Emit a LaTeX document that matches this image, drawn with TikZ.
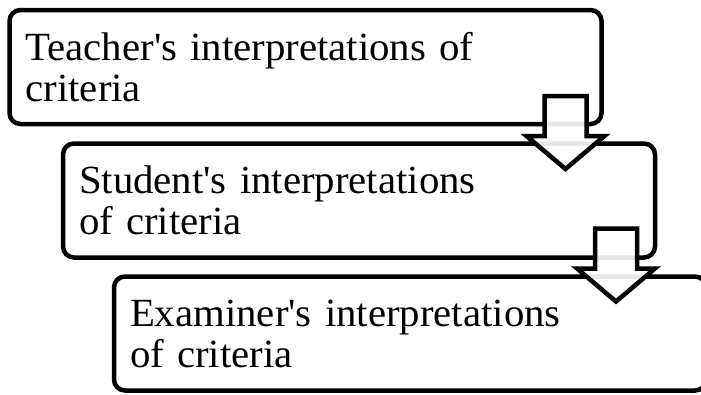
\documentclass[tikz,border=0pt]{standalone}
\usepackage{fontspec}
\setmainfont{Liberation Serif}[FakeStretch=1.02]
\usetikzlibrary{calc}

\tikzset{
  stage/.style={draw=black, line width=4.5pt, rounded corners=11pt, fill=white,
    minimum width=592pt, minimum height=114pt, outer sep=0pt,
    inner xsep=16pt, text width=560pt, align=left,
    font=\fontsize{40}{41}\selectfont},
  blockarrow/.style={draw=black, line width=4.5pt, line join=miter,
    fill=white, fill opacity=0.9},
  downarrow/.pic={
    \draw[blockarrow] (-21,0) -- (-21,40) -- (-39,40) -- (0,73)
      -- (39,40) -- (21,40) -- (21,0) -- cycle;
  }
}

\begin{document}
\begin{tikzpicture}[x=1pt, y=-1pt]
  \useasboundingbox (0,0) rectangle (701,394);

  % the three stages, stepped down to the right
  \node[stage] (teacher)  at (305.5,67)
    {Teacher\textquotesingle s interpretations of\\criteria};
  \node[stage] (student)  at (359,200.5)
    {Student\textquotesingle s interpretations\\of criteria};
  \node[stage] (examiner) at (410,333.5)
    {Examiner\textquotesingle s interpretations\\of criteria};

  % hollow block arrows leading from one stage to the next
  \pic at ($(teacher.south east)+(-36,-28)$) {downarrow};
  \pic at ($(student.south east)+(-39,-29)$) {downarrow};
\end{tikzpicture}
\end{document}
